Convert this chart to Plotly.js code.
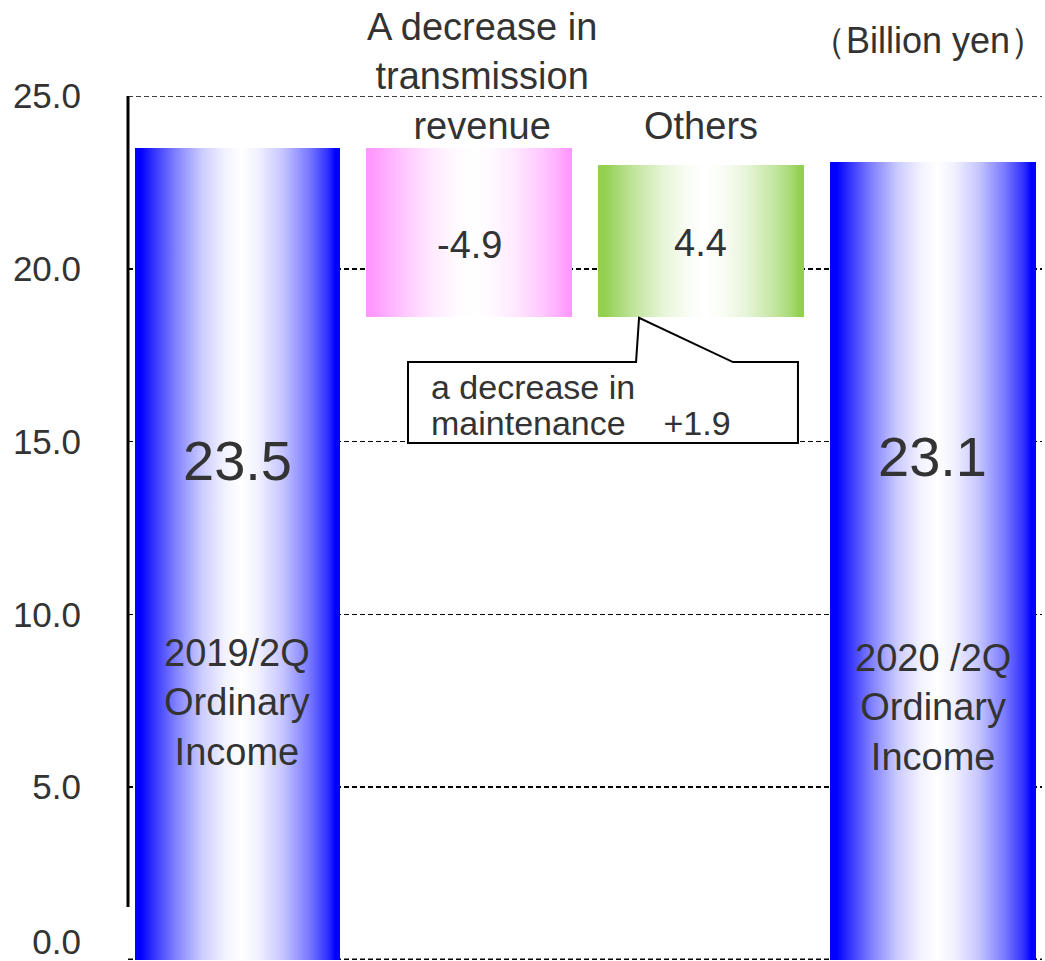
<!DOCTYPE html>
<html>
<head>
<meta charset="utf-8">
<script src="https://cdn.plot.ly/plotly-3.0.1.min.js"></script>
<style>
  html, body { margin: 0; padding: 0; background: #ffffff; }
  #chart { width: 1045px; height: 961px; }
</style>
</head>
<body>
<div id="chart"></div>
<script>
// ---------------- data ----------------
const categories = ['2019/2Q Ordinary Income', 'A decrease in transmission revenue', 'Others', '2020 /2Q Ordinary Income'];
const measures = ['absolute', 'relative', 'relative', 'absolute'];
const values = [23.5, -4.9, 4.4, 23.1];
const valueLabels = ['23.5', '-4.9', '4.4', '23.1'];
const barNameLabels = ['2019/2Q<br>Ordinary<br>Income', '', '', '2020 /2Q<br>Ordinary<br>Income'];
const headerLabels = ['', 'A decrease in<br>transmission<br>revenue', 'Others', ''];
const yTickValues = [0, 5, 10, 15, 20, 25];
const yTickLabels = ['0.0', '5.0', '10.0', '15.0', '20.0', '25.0'];
const unitLabel = '（Billion yen）';
const calloutLines = ['a decrease in', 'maintenance\u00A0\u00A0\u00A0\u00A0+1.9'];

// ------------- waterfall geometry from data -------------
const xIdx = categories.map((_, i) => i);
const bases = [], heights = [];
let running = 0;
values.forEach((v, i) => {
  if (measures[i] === 'absolute') {
    bases.push(0); heights.push(v); running = v;
  } else {
    const next = running + v;
    bases.push(Math.min(running, next));
    heights.push(Math.abs(v));
    running = next;
  }
});

// ---------------- styles ----------------
const FONT = 'Liberation Sans, Arial, Helvetica, sans-serif';
const TXT = '#333333';
const barEdgeColors = ['#0000ff', '#ff99ff', '#92d050', '#0000ff'];
const GRID_DASH = '5px,3px';

const data = [
  {
    type: 'bar',
    x: xIdx,
    y: heights,
    base: bases,
    width: 0.884,
    customdata: categories,
    hovertemplate: '%{customdata}<extra></extra>',
    marker: { color: barEdgeColors, line: { width: 0 } },
    showlegend: false
  },
  {
    type: 'scatter', x: [], y: [], yaxis: 'y2', showlegend: false, hoverinfo: 'skip'
  }
];

const annotations = [];
// value labels inside bars
const valueLabelY = [14.44, 20.69, 20.75, 14.58];
const valueLabelSize = [56, 38, 38, 56];
valueLabels.forEach((t, i) => {
  annotations.push({
    x: xIdx[i], y: valueLabelY[i], xref: 'x', yref: 'y', text: t, showarrow: false,
    font: { family: FONT, size: valueLabelSize[i], color: TXT }, xanchor: 'center', yanchor: 'middle'
  });
});
// name labels inside total bars
const nameLabelY = [7.44, 0, 0, 7.30];
barNameLabels.forEach((t, i) => {
  if (!t) return;
  annotations.push({
    x: xIdx[i], y: nameLabelY[i], xref: 'x', yref: 'y', text: t, showarrow: false,
    font: { family: FONT, size: 38, color: TXT }, xanchor: 'center', yanchor: 'middle'
  });
});
// header labels above change bars (paper y so they may sit above the plot area)
const headerPos = [null, { x: 1.056, y: 1.0231 }, { x: 1.998, y: 0.9653 }, null];
headerLabels.forEach((t, i) => {
  if (!t) return;
  annotations.push({
    x: headerPos[i].x, y: headerPos[i].y, xref: 'x', yref: 'paper', text: t, showarrow: false,
    font: { family: FONT, size: 38, color: TXT }, xanchor: 'center', yanchor: 'middle'
  });
});
// unit label
annotations.push({
  x: 2.98, y: 1.0637, xref: 'x', yref: 'paper', text: unitLabel, showarrow: false,
  font: { family: FONT, size: 36, color: TXT }, xanchor: 'center', yanchor: 'middle'
});
// callout text
const calloutY = [16.58, 15.55];
calloutLines.forEach((t, i) => {
  annotations.push({
    x: 0.828, y: calloutY[i], xref: 'x', yref: 'y', text: t, showarrow: false,
    font: { family: FONT, size: 34, color: TXT }, xanchor: 'left', yanchor: 'middle'
  });
});

const shapes = [
  // gridlines at the range ends (Plotly omits them at the plot edges)
  { type: 'line', xref: 'paper', yref: 'y', x0: 0, x1: 1, y0: 25, y1: 25, layer: 'below',
    line: { color: '#000000', width: 1.6, dash: GRID_DASH } },
  { type: 'line', xref: 'paper', yref: 'y', x0: 0, x1: 1, y0: 0.02, y1: 0.02, layer: 'below',
    line: { color: '#000000', width: 1.6, dash: GRID_DASH } },
  // left axis line
  { type: 'line', xref: 'paper', yref: 'y', x0: 0, x1: 0, y0: 1.53, y1: 25,
    line: { color: '#000000', width: 3 } },
  // callout box with pointer
  { type: 'path', xref: 'x', yref: 'y', layer: 'above',
    path: 'M 0.737 17.30 L 1.720 17.30 L 1.733 18.58 L 2.138 17.30 L 2.418 17.30 L 2.418 14.96 L 0.737 14.96 Z',
    fillcolor: '#ffffff', line: { color: '#000000', width: 2 } }
];

const layout = {
  width: 1045, height: 961,
  margin: { l: 128, r: 3, t: 96, b: 1, pad: 0 },
  paper_bgcolor: '#ffffff', plot_bgcolor: '#ffffff',
  showlegend: false,
  bargap: 0,
  font: { family: FONT, color: TXT },
  xaxis: {
    type: 'linear', range: [-0.47, 3.47], showgrid: false, zeroline: false,
    showline: false, showticklabels: false, ticks: '', fixedrange: true
  },
  yaxis: {
    range: [0, 25], autorange: false, tickvals: yTickValues, showticklabels: false,
    showgrid: true, gridcolor: '#000000', gridwidth: 1.6, griddash: GRID_DASH,
    zeroline: false, showline: false, ticks: '', fixedrange: true
  },
  yaxis2: {
    overlaying: 'y', side: 'left', range: [0, 25], autorange: false,
    // the bottom label sits a little above its gridline in the reference
    tickvals: yTickValues.map(v => (v === 0 ? v + 0.54 : v)),
    ticktext: yTickLabels,
    showgrid: false, zeroline: false, showline: false, ticks: '',
    ticklabelstandoff: 46,
    tickfont: { family: FONT, size: 35, color: TXT }, fixedrange: true
  },
  annotations: annotations,
  shapes: shapes
};

function mix(hex, w) {
  const r = parseInt(hex.slice(1, 3), 16), g = parseInt(hex.slice(3, 5), 16), b = parseInt(hex.slice(5, 7), 16);
  const m = c => Math.round(c + (255 - c) * w);
  return `rgb(${m(r)},${m(g)},${m(b)})`;
}

function applyGradients(gd) {
  const NS = 'http://www.w3.org/2000/svg';
  const svg = gd.querySelector('svg.main-svg');
  let defs = svg.querySelector('defs');
  if (!defs) { defs = document.createElementNS(NS, 'defs'); svg.insertBefore(defs, svg.firstChild); }
  const stopsTpl = [[0, 0], [0.03, 0], [0.1, 0.22], [0.2, 0.5], [0.33, 0.8], [0.44, 0.95], [0.52, 1],
                    [0.6, 0.95], [0.72, 0.78], [0.85, 0.48], [0.94, 0.2], [0.98, 0], [1, 0]];
  barEdgeColors.forEach((c, i) => {
    const lg = document.createElementNS(NS, 'linearGradient');
    lg.setAttribute('id', 'barGrad' + i);
    lg.setAttribute('x1', '0'); lg.setAttribute('y1', '0');
    lg.setAttribute('x2', '1'); lg.setAttribute('y2', '0');
    stopsTpl.forEach(([o, w]) => {
      const s = document.createElementNS(NS, 'stop');
      s.setAttribute('offset', o);
      s.setAttribute('stop-color', mix(c, w));
      lg.appendChild(s);
    });
    defs.appendChild(lg);
  });
  const paths = gd.querySelectorAll('.barlayer .point path');
  paths.forEach((p, i) => { p.style.fill = `url(#barGrad${i})`; });
}

Plotly.newPlot('chart', data, layout, { displayModeBar: false, staticPlot: true })
  .then(gd => applyGradients(gd));
</script>
</body>
</html>
